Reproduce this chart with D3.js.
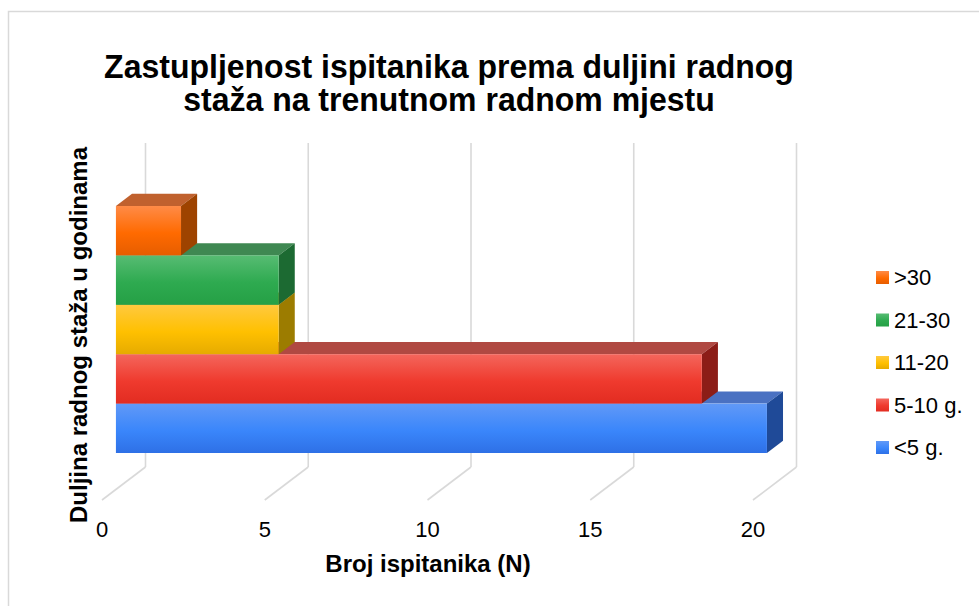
<!DOCTYPE html>
<html>
<head>
<meta charset="utf-8">
<title>Zastupljenost ispitanika prema duljini radnog staža</title>
<style>
    body { margin: 0; background: #fff; font-family: "Liberation Sans", Arial, sans-serif; }
    svg text { font-family: "Liberation Sans", Arial, sans-serif; fill: #000; }
</style>
</head>
<body>
<div id="chart"></div>
<script src="https://cdn.jsdelivr.net/npm/d3@7"></script>
<script>
// data
const categories = ["<5 g.", "5-10 g.", "11-20", "21-30", ">30"];
const values = [20, 18, 5, 5, 2];
const xTicks = [0, 5, 10, 15, 20];
const titleLines = ["Zastupljenost ispitanika prema duljini radnog", "staža na trenutnom radnom mjestu"];

// colours per category: [gradient top, mid, bottom, top face, side face]
const palette = {
    "<5 g.":   ["#6199f7", "#3a86fb", "#2e70e6", "#4a71c2", "#1f4a98"],
    "5-10 g.": ["#f4665c", "#ef3a2e", "#e22c21", "#b04942", "#8c1d17"],
    "11-20":   ["#ffc93f", "#ffc000", "#e6ab00", "#a88a20", "#9c7c00"],
    "21-30":   ["#57bc73", "#2eaa50", "#25a045", "#3f8852", "#1c6a32"],
    ">30":     ["#ff8b47", "#ff6a00", "#e65d00", "#c0612e", "#9e4300"]
};

const W = 979, H = 606;
const svg = d3.select("#chart").append("svg")
    .attr("width", W).attr("height", H);

// outer chart border
svg.append("rect")
    .attr("x", 8.5).attr("y", 11.5)
    .attr("width", W + 20).attr("height", H + 20)
    .attr("fill", "none")
    .attr("stroke", "#d9d9d9")
    .attr("stroke-width", 1.5);

// gradients
const defs = svg.append("defs");
categories.forEach((c, i) => {
    const g = defs.append("linearGradient")
        .attr("id", "grad" + i)
        .attr("x1", 0).attr("y1", 0).attr("x2", 0).attr("y2", 1);
    g.append("stop").attr("offset", "0%").attr("stop-color", palette[c][0]);
    g.append("stop").attr("offset", "55%").attr("stop-color", palette[c][1]);
    g.append("stop").attr("offset", "100%").attr("stop-color", palette[c][2]);
});

// 3d frame: front floor edge, depth vector to the back wall
const floorFront = 500, wallTop = 143;
const depth = {dx: 43.5, dy: -33};
const xf = d3.scaleLinear().domain([0, 20]).range([102, 753]);
const barStart = 0.32, barEnd = 0.69;   // fractions of depth occupied by bars

const y = d3.scaleBand()
    .domain(categories)
    .range([453, 206])
    .padding(0);

// back wall gridlines
svg.append("g").selectAll("line")
    .data(xTicks)
    .join("line")
    .attr("x1", d => xf(d) + depth.dx)
    .attr("x2", d => xf(d) + depth.dx)
    .attr("y1", wallTop)
    .attr("y2", floorFront + depth.dy)
    .attr("stroke", "#d9d9d9")
    .attr("stroke-width", 1.6);

// floor lines
svg.append("g").selectAll("line")
    .data(xTicks)
    .join("line")
    .attr("x1", d => xf(d))
    .attr("x2", d => xf(d) + depth.dx)
    .attr("y1", floorFront)
    .attr("y2", floorFront + depth.dy)
    .attr("stroke", "#d9d9d9")
    .attr("stroke-width", 1.6);

// tick labels
svg.append("g").selectAll("text")
    .data(xTicks)
    .join("text")
    .attr("x", d => xf(d))
    .attr("y", 537)
    .attr("text-anchor", "middle")
    .style("font-size", "22px")
    .text(d => d);

// bars, bottom to top so upper front faces cover lower top faces
const bdx = (barEnd - barStart) * depth.dx;
const bdy = (barEnd - barStart) * depth.dy;
const off = barStart * depth.dx;

const bars = svg.append("g").selectAll("g")
    .data(categories.map((c, i) => ({cat: c, val: values[i], i: i})))
    .join("g");

bars.each(function(d) {
    const g = d3.select(this);
    const x0 = xf(0) + off, x1 = xf(d.val) + off;
    const y0 = y(d.cat), y1 = y(d.cat) + y.bandwidth();
    const c = palette[d.cat];
    // top face
    g.append("path")
        .attr("d", `M${x0},${y0}L${x0 + bdx},${y0 + bdy}L${x1 + bdx},${y0 + bdy}L${x1},${y0}Z`)
        .attr("fill", c[3]);
    // side face
    g.append("path")
        .attr("d", `M${x1},${y0}L${x1 + bdx},${y0 + bdy}L${x1 + bdx},${y1 + bdy}L${x1},${y1}Z`)
        .attr("fill", c[4]);
    // front face
    g.append("rect")
        .attr("x", x0).attr("y", y0)
        .attr("width", x1 - x0).attr("height", y1 - y0)
        .attr("fill", `url(#grad${d.i})`);
});

// title (glyphs a bit taller than wide in the original)
const tScale = 1.06;
svg.append("g")
    .attr("transform", `translate(449,0) scale(1,${tScale})`)
    .append("text")
    .attr("text-anchor", "middle")
    .style("font-size", "32px")
    .style("font-weight", "bold")
    .selectAll("tspan")
    .data(titleLines)
    .join("tspan")
    .attr("x", 0)
    .attr("y", (d, i) => (78 + i * 33) / tScale)
    .text(d => d);

// axis titles
svg.append("text")
    .attr("x", 428).attr("y", 572)
    .attr("text-anchor", "middle")
    .style("font-size", "24px")
    .style("font-weight", "bold")
    .text("Broj ispitanika (N)");

svg.append("text")
    .attr("transform", "translate(87,335) rotate(-90)")
    .attr("text-anchor", "middle")
    .style("font-size", "24px")
    .style("font-weight", "bold")
    .text("Duljina radnog staža u godinama");

// legend, top entry is the last category
const legendCats = categories.slice().reverse();
const legend = svg.append("g").selectAll("g")
    .data(legendCats)
    .join("g")
    .attr("transform", (d, i) => `translate(876,${277.5 + i * 42.5})`);

legend.append("rect")
    .attr("x", 0).attr("y", -6.5)
    .attr("width", 13).attr("height", 13)
    .attr("fill", d => `url(#grad${categories.indexOf(d)})`);

legend.append("text")
    .attr("x", 18)
    .attr("y", 0)
    .attr("dy", "0.36em")
    .style("font-size", "22px")
    .text(d => d);
</script>
</body>
</html>
